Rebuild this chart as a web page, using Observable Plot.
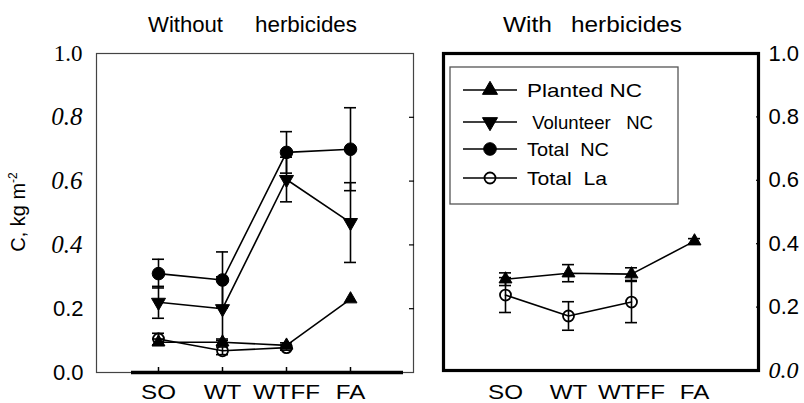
<!DOCTYPE html>
<html><head><meta charset="utf-8">
<script src="https://cdn.jsdelivr.net/npm/d3@7"></script>
<script src="https://cdn.jsdelivr.net/npm/@observablehq/plot@0.6"></script>
<style>
body{margin:0;background:#fff;}
#wrap{position:relative;width:804px;height:403px;overflow:hidden;font-family:"Liberation Sans",Arial,sans-serif;color:#000;}
</style></head><body><div id="wrap"></div>
<script>
const categories = ["SO", "WT", "WTFF", "FA"];
const seriesNames = ["Planted NC", "Volunteer NC", "Total NC", "Total La"];
const titleWords = [["Without", "herbicides"], ["With", "herbicides"]];
const yLabel = "C, kg m";

// Without herbicides (mean and error half-width)
const plantedWithout = [0.095, 0.095, 0.085, 0.23];
const plantedWithoutErr = [0.01, 0.01, 0.008, 0];
const volunteerWithout = [0.22, 0.20, 0.605, 0.47];
const volunteerWithoutErr = [0.05, 0.10, 0.07, 0.125];
const totalNCWithout = [0.31, 0.29, 0.69, 0.70];
const totalNCWithoutErr = [0.045, 0.088, 0.065, 0.13];
const totalLaWithout = [0.105, 0.068, 0.078, null];
const totalLaWithoutErr = [0.018, 0.012, 0.008, null];

// With herbicides
const plantedWith = [0.288, 0.307, 0.304, 0.408];
const plantedWithErr = [0.02, 0.027, 0.02, 0.008];
const totalLaWith = [0.238, 0.172, 0.216, null];
const totalLaWithErr = [0.055, 0.045, 0.065, null];

// tick labels
const leftSerifUpright = [1.0];
const leftSerifItalic = [0.4, 0.6, 0.8];
const leftSans = [0, 0.2];
const rightSans = [0.2, 0.4, 0.6, 0.8, 1.0];
const rightSerifItalic = [0];
const innerTicks = [0.2, 0.4, 0.6, 0.8];

const SANS = '"Liberation Sans", Arial, sans-serif';
const SERIF = '"Liberation Serif", "Times New Roman", serif';

function rows(series, vals, errs) {
  return categories.map((c, i) => ({series, cat: c, v: vals[i], e: errs[i]})).filter(d => d.v != null);
}
const fmt = d => d.toFixed(1);

const symbolOf = {
  "Planted NC": {symbol: "triangle", fill: "black", rotate: 0, r: 4.8},
  "Volunteer NC": {symbol: "triangle", fill: "black", rotate: 180, r: 5.2},
  "Total NC": {symbol: "circle", fill: "black", rotate: 0, r: 6.3},
  "Total La": {symbol: "circle", fill: "none", rotate: 0, r: 5.5}
};

function seriesMarks(data) {
  const marks = [];
  const names = [...new Set(data.map(d => d.series))];
  marks.push(Plot.line(data, {x: "cat", y: "v", z: "series", stroke: "black", strokeWidth: 1.6}));
  const eb = data.filter(d => d.e > 0);
  marks.push(Plot.ruleX(eb, {x: "cat", y1: d => d.v - d.e, y2: d => d.v + d.e, stroke: "black", strokeWidth: 1.6}));
  marks.push(Plot.ruleY(eb, {x1: "cat", x2: "cat", y: d => d.v - d.e, insetLeft: -6, insetRight: -6, stroke: "black", strokeWidth: 1.6}));
  marks.push(Plot.ruleY(eb, {x1: "cat", x2: "cat", y: d => d.v + d.e, insetLeft: -6, insetRight: -6, stroke: "black", strokeWidth: 1.6}));
  for (const n of names) {
    const s = symbolOf[n];
    marks.push(Plot.dot(data.filter(d => d.series === n), {
      x: "cat", y: "v", symbol: s.symbol, r: s.r, rotate: s.rotate,
      fill: s.fill, stroke: "black", strokeWidth: s.fill === "none" ? 1.8 : 1
    }));
  }
  return marks;
}

const leftData = [
  ...rows("Total La", totalLaWithout, totalLaWithoutErr),
  ...rows("Planted NC", plantedWithout, plantedWithoutErr),
  ...rows("Volunteer NC", volunteerWithout, volunteerWithoutErr),
  ...rows("Total NC", totalNCWithout, totalNCWithoutErr)
];
const rightData = [
  ...rows("Total La", totalLaWith, totalLaWithErr),
  ...rows("Planted NC", plantedWith, plantedWithErr)
];

const wrap = document.getElementById("wrap");

const left = Plot.plot({
  width: 420, height: 403,
  marginLeft: 96, marginRight: 7, marginTop: 53, marginBottom: 31,
  x: {type: "point", domain: categories, range: [157, 350], padding: 0},
  y: {domain: [0, 1], range: [372, 53]},
  style: {background: "white", fontFamily: SANS, color: "black"},
  marks: [
    Plot.frame({stroke: "#444", strokeWidth: 1.2}),
    Plot.ruleY([0], {insetLeft: 35, insetRight: 10, stroke: "black", strokeWidth: 3.5}),
    Plot.axisX({tickSize: -5, text: null, strokeWidth: 1.5, label: null}),
    Plot.axisX({tickSize: 0, tickPadding: 12, fontSize: 21, label: null}),
    Plot.axisY({anchor: "right", ticks: innerTicks, tickSize: -5, text: null, strokeWidth: 1.2, label: null}),
    Plot.axisY({ticks: leftSerifUpright, tickFormat: fmt, tickSize: 0, tickPadding: 14, fontSize: 23, fontFamily: SERIF, label: null}),
    Plot.axisY({ticks: leftSerifItalic, tickFormat: fmt, tickSize: 0, tickPadding: 14, fontSize: 25, fontFamily: SERIF, fontStyle: "italic", label: null}),
    Plot.axisY({ticks: leftSans, tickFormat: fmt, tickSize: 0, tickPadding: 13, fontSize: 22, fontFamily: SANS, label: null}),
    ...seriesMarks(leftData)
  ]
});
left.style.position = "absolute"; left.style.left = "0px"; left.style.top = "0px";
wrap.appendChild(left);

const right = Plot.plot({
  width: 384, height: 403,
  marginLeft: 23, marginRight: 46, marginTop: 53, marginBottom: 33,
  x: {type: "point", domain: categories, range: [84, 274], padding: 0},
  y: {domain: [0, 1], range: [370, 53]},
  style: {background: "transparent", fontFamily: SANS, color: "black"},
  marks: [
    Plot.frame({stroke: "black", strokeWidth: 3.2}),
    Plot.axisX({tickSize: 0, tickPadding: 14, fontSize: 21, label: null}),
    Plot.axisY({anchor: "right", ticks: innerTicks, tickSize: -3, text: null, strokeWidth: 1.2, label: null}),
    Plot.axisY({anchor: "right", ticks: rightSans, tickFormat: fmt, tickSize: 0, tickPadding: 10, fontSize: 22, fontFamily: SANS, label: null}),
    Plot.axisY({anchor: "right", ticks: rightSerifItalic, tickFormat: fmt, tickSize: 0, tickPadding: 10, fontSize: 24, fontFamily: SERIF, fontStyle: "italic", label: null}),
    ...seriesMarks(rightData)
  ]
});
right.style.position = "absolute"; right.style.left = "420px"; right.style.top = "0px";
wrap.appendChild(right);

// widen the category labels slightly, as in the scanned original
for (const svg of [left, right]) {
  svg.querySelectorAll('g[aria-label="x-axis tick label"] text').forEach(t => {
    const len = t.getComputedTextLength();
    if (len > 0) {
      t.setAttribute("textLength", (len * 1.15).toFixed(1));
      t.setAttribute("lengthAdjust", "spacingAndGlyphs");
    }
  });
}

// overlay for titles, y label and legend
const ns = "http://www.w3.org/2000/svg";
const ov = document.createElementNS(ns, "svg");
ov.setAttribute("width", 804); ov.setAttribute("height", 403);
ov.style.position = "absolute"; ov.style.left = "0px"; ov.style.top = "0px";
ov.setAttribute("font-family", SANS);
let html = "";
const titlePos = [[[148, 75], [255, 102]], [[503, 49], [571, 111]]];
titleWords.forEach((words, p) => words.forEach((w, k) => {
  const [x, len] = titlePos[p][k];
  html += `<text x="${x}" y="32" font-size="22" textLength="${len}" lengthAdjust="spacingAndGlyphs">${w}</text>`;
}));
html += `<text transform="translate(25,212) rotate(-90)" text-anchor="middle" font-size="20">${yLabel}<tspan dy="-8" font-size="12">-2</tspan></text>`;
html += `<rect x="450" y="67" width="228" height="137" fill="white" stroke="#555" stroke-width="1.3"/>`;
const legY = [90, 122, 149, 178];
const legText = ["Planted NC", " Volunteer   NC", "Total  NC", "Total  La"];
const legLen = [115, 126, 82, 80];
const legR = [5.6, 5.6, 6.3, 5.5];
seriesNames.forEach((n, i) => {
  const s = symbolOf[n];
  const y = legY[i];
  const sym = d3.symbol(s.symbol === "triangle" ? d3.symbolTriangle : d3.symbolCircle, Math.PI * legR[i] * legR[i])();
  html += `<line x1="463" x2="517" y1="${y}" y2="${y}" stroke="black" stroke-width="1.6"/>
    <path d="${sym}" transform="translate(490,${y}) rotate(${s.rotate})" fill="${s.fill}" stroke="black" stroke-width="${s.fill === 'none' ? 1.8 : 1}"/>
    <text x="527" y="${y + 7}" font-size="19" xml:space="preserve" textLength="${legLen[i]}" lengthAdjust="spacingAndGlyphs">${legText[i]}</text>`;
});
ov.innerHTML = html;
wrap.appendChild(ov);
</script></body></html>
